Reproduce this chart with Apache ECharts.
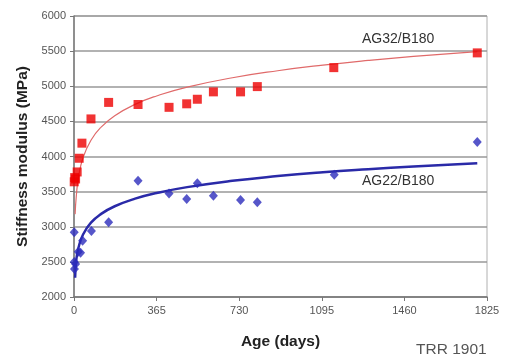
<!DOCTYPE html>
<html><head><meta charset="utf-8">
<script src="https://cdn.jsdelivr.net/npm/echarts@6/dist/echarts.min.js"></script>
<style>html,body{margin:0;padding:0;background:#fff}#c{width:505px;height:363px}</style>
</head><body><div id="c"></div>
<script>
// Age (days) ticks
const xTicks = [0, 365, 730, 1095, 1460, 1825];
const yTicks = [2000, 2500, 3000, 3500, 4000, 4500, 5000, 5500, 6000];

// AG32/B180 measured (red squares)
const ag32Days = [1, 3, 7, 14, 23, 35, 75, 153, 283, 420, 498, 545, 616, 736, 810, 1148, 1782];
const ag32Vals = [3640, 3700, 3680, 3780, 3975, 4190, 4535, 4770, 4740, 4700, 4750, 4815, 4920, 4920, 4995, 5265, 5475];

// AG22/B180 measured (blue diamonds)
const ag22Days = [1, 1, 2, 7, 19, 29, 38, 77, 153, 283, 420, 498, 545, 616, 736, 810, 1150, 1782];
const ag22Vals = [2920, 2500, 2400, 2470, 2645, 2630, 2800, 2940, 3065, 3655, 3475, 3395, 3620, 3440, 3380, 3350, 3740, 4205];

// Trend curves
const trendDays = [5, 10, 20, 40, 75, 120, 180, 270, 365, 500, 700, 900, 1100, 1300, 1500, 1782];
const ag32Trend = [3180, 3430, 3706, 3982, 4232, 4419, 4581, 4742, 4862, 4988, 5121, 5221, 5301, 5368, 5425, 5493];
const ag22Trend = [2275, 2520, 2705, 2890, 3058, 3183, 3292, 3400, 3480, 3564, 3654, 3721, 3775, 3819, 3858, 3904];

const zip = (a, b) => a.map((v, i) => [v, b[i]]);

const chart = echarts.init(document.getElementById('c'), null, {renderer: 'canvas'});
const font = 'Liberation Sans, Arial, sans-serif';
chart.setOption({
  animation: false,
  grid: {left: 74, right: 18, top: 16, bottom: 66, show: true, borderColor: '#b0b0b0', borderWidth: 1},
  xAxis: {
    type: 'value', min: xTicks[0], max: xTicks[xTicks.length - 1], interval: 365,
    name: 'Age (days)', nameLocation: 'middle', nameGap: 37,
    nameTextStyle: {fontFamily: font, fontSize: 15.5, fontWeight: 'bold', color: '#222'},
    axisLine: {lineStyle: {color: '#777', width: 1.5}},
    axisTick: {show: true, length: 4, lineStyle: {color: '#777'}},
    axisLabel: {fontFamily: font, fontSize: 11, color: '#555', margin: 8, formatter: v => String(v)},
    splitLine: {show: false}
  },
  yAxis: {
    type: 'value', min: yTicks[0], max: yTicks[yTicks.length - 1], interval: 500,
    name: 'Stiffness modulus (MPa)', nameLocation: 'middle', nameGap: 43, nameRotate: 90,
    nameTextStyle: {fontFamily: font, fontSize: 15.5, fontWeight: 'bold', color: '#222'},
    axisLine: {show: true, lineStyle: {color: '#777', width: 1.5}},
    axisTick: {show: true, length: 4, lineStyle: {color: '#777'}},
    axisLabel: {fontFamily: font, fontSize: 11, color: '#555', margin: 8, formatter: v => String(v)},
    splitLine: {show: true, lineStyle: {color: '#999', width: 1.5}}
  },
  series: [
    {type: 'line', data: zip(trendDays, ag32Trend), smooth: true, showSymbol: false, z: 2,
     lineStyle: {color: '#e06a6a', width: 1.2}},
    {type: 'line', data: zip(trendDays, ag22Trend), smooth: true, showSymbol: false, z: 2,
     lineStyle: {color: '#2a2aa8', width: 2.5}},
    {type: 'scatter', data: zip(ag32Days, ag32Vals), symbol: 'rect', symbolSize: 9, z: 3,
     itemStyle: {color: '#ee0000'}},
    {type: 'scatter', data: zip(ag22Days, ag22Vals), symbol: 'diamond', symbolSize: [9, 10], z: 3,
     itemStyle: {color: '#2c2cbc'}}
  ],
  graphic: [
    {type: 'text', left: 362, top: 32, style: {text: 'AG32/B180', font: '14px ' + font, fill: '#333'}},
    {type: 'text', left: 362, top: 174, style: {text: 'AG22/B180', font: '14px ' + font, fill: '#333'}},
    {type: 'text', left: 416, top: 342, style: {text: 'TRR 1901', font: '15.5px ' + font, fill: '#555'}}
  ]
});
</script>
</body></html>
